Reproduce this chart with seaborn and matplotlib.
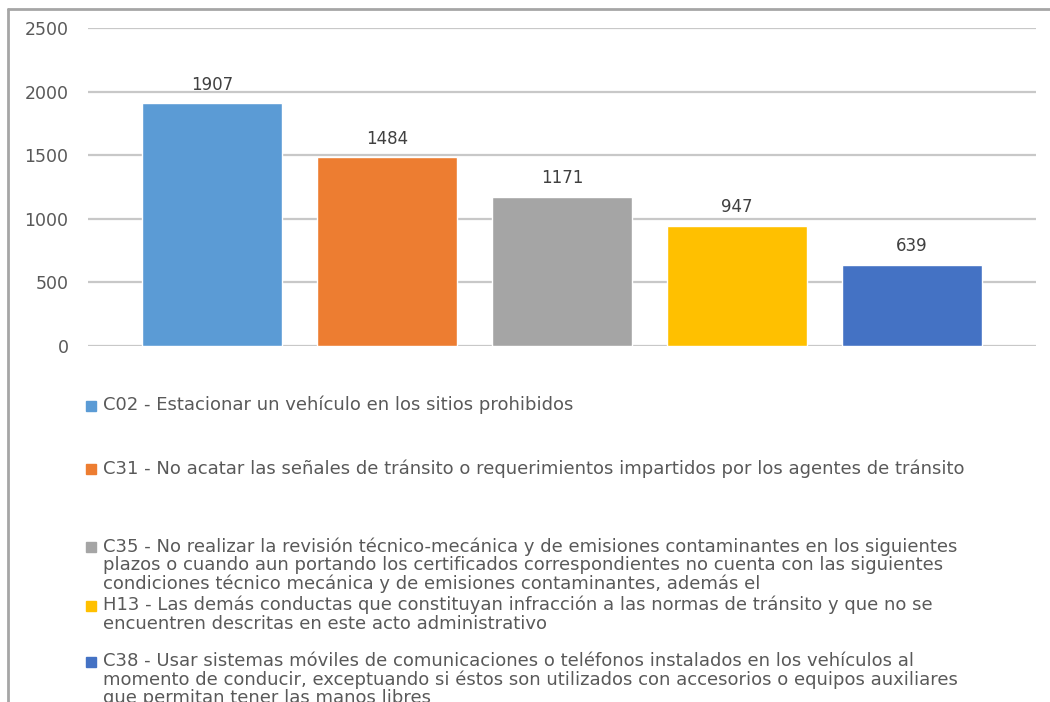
import matplotlib
matplotlib.use("Agg")
import matplotlib.pyplot as plt
import seaborn as sns
import pandas as pd
from matplotlib.patches import Rectangle
from matplotlib.lines import Line2D

# data
codes = ["C02", "C31", "C35", "H13", "C38"]
counts = [1907, 1484, 1171, 947, 639]
colors = ["#5B9BD5", "#ED7D31", "#A5A5A5", "#FFC000", "#4472C4"]
descriptions = [
    "C02 - Estacionar un vehículo en los sitios prohibidos",
    "C31 - No acatar las señales de tránsito o requerimientos impartidos por los agentes de tránsito",
    "C35 - No realizar la revisión técnico-mecánica y de emisiones contaminantes en los siguientes\n"
    "plazos o cuando aun portando los certificados correspondientes no cuenta con las siguientes\n"
    "condiciones técnico mecánica y de emisiones contaminantes, además el",
    "H13 - Las demás conductas que constituyan infracción a las normas de tránsito y que no se\n"
    "encuentren descritas en este acto administrativo",
    "C38 - Usar sistemas móviles de comunicaciones o teléfonos instalados en los vehículos al\n"
    "momento de conducir, exceptuando si éstos son utilizados con accesorios o equipos auxiliares\n"
    "que permitan tener las manos libres",
]
y_ticks = [0, 500, 1000, 1500, 2000, 2500]

df = pd.DataFrame({"code": codes, "count": counts})

sns.set_theme(style="white")
plt.rcParams["font.family"] = ["DejaVu Sans"]

W, H = 1050, 702
fig = plt.figure(figsize=(W / 100, H / 100), dpi=100)
ax = fig.add_axes([88 / W, 1 - 346 / H, (1036 - 88) / W, (346 - 28) / H])

sns.barplot(data=df, x="code", y="count", hue="code", palette=colors,
            width=0.8, legend=False, ax=ax, zorder=3, saturation=1)

ax.set_xlim(-0.71, 4.71)
ax.set_ylim(0, 2500)
ax.set_yticks(y_ticks)
ax.set_xticks([])
ax.set_xlabel("")
ax.set_ylabel("")
ax.grid(axis="y", color="#c8c8c8", linewidth=1.6, zorder=0)
for s in ax.spines.values():
    s.set_visible(False)
ax.tick_params(axis="y", length=0, pad=14, labelsize=12.5, labelcolor="#595959")

for cont in ax.containers:
    ax.bar_label(cont, fmt="%d", padding=7, fontsize=12, color="#404040")

# legend below the plot, placed like the original (uneven slots)
legend_y = [406, 469, 547, 606, 662]
for desc, col, yy in zip(descriptions, colors, legend_y):
    fig.add_artist(Rectangle((86 / W, 1 - (yy + 5) / H), 10 / W, 10 / H,
                             transform=fig.transFigure, color=col))
    fig.text(103 / W, 1 - (yy - 10) / H, desc, ha="left", va="top",
             fontsize=13, color="#595959", linespacing=1.03)

# grey frame at the top and left edges
fig.add_artist(Line2D([8 / W, 1], [1 - 9 / H, 1 - 9 / H], transform=fig.transFigure,
                      color="#a6a6a6", linewidth=2))
fig.add_artist(Line2D([8 / W, 8 / W], [0, 1 - 9 / H], transform=fig.transFigure,
                      color="#a6a6a6", linewidth=2))

fig.savefig("out.png", dpi=100, facecolor="white")
